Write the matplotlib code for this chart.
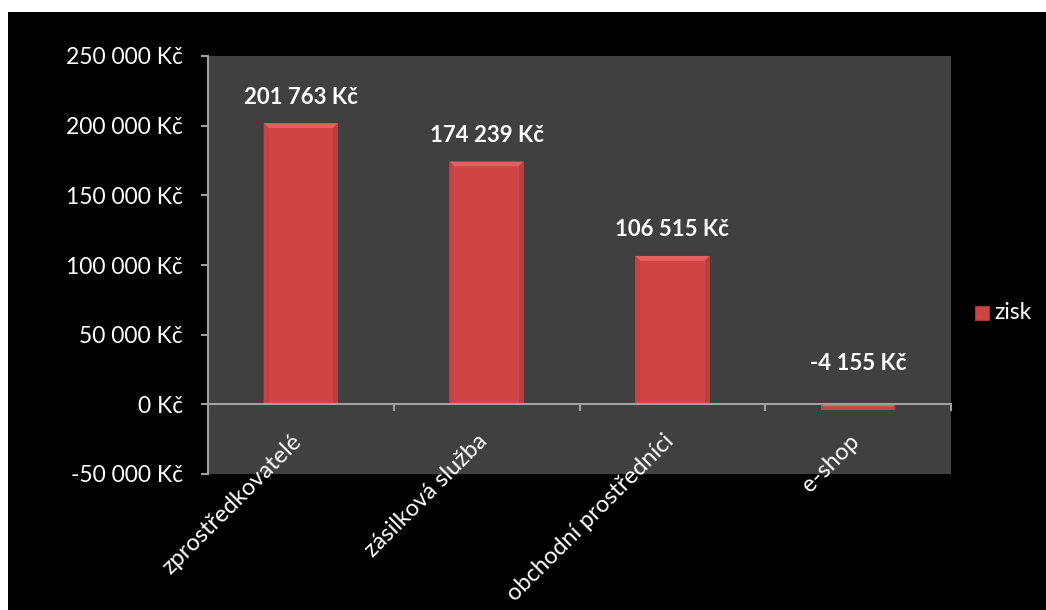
import matplotlib
matplotlib.use("Agg")
from matplotlib import pyplot as plt
from matplotlib.patches import Rectangle, Polygon
from matplotlib.transforms import ScaledTranslation
import numpy as np

categories = ["zprostředkovatelé", "zásilková služba", "obchodní prostředníci", "e-shop"]
zisk = [201763, 174239, 106515, -4155]
yticks = [-50000, 0, 50000, 100000, 150000, 200000, 250000]

W, H = 1046, 610
plt.rcParams["font.family"] = ["Lato", "DejaVu Sans"]

def kc(v):
    s = f"{abs(v):,}".replace(",", " ")
    return ("-" if v < 0 else "") + s + " Kč"

fig = plt.figure(figsize=(W / 100, H / 100), dpi=100, facecolor="white")
# black chart background, leaving a thin white margin top and left
fig.patches.append(Rectangle((8 / W, 0), 1 - 8 / W, 1 - 12 / H, transform=fig.transFigure,
                             facecolor="black", edgecolor="none", zorder=-5))

ax = fig.add_axes([208 / W, (H - 474) / H, (951 - 208) / W, (474 - 56) / H])
ax.set_facecolor("#404040")
ax.set_xlim(0, len(categories))
ax.set_ylim(-50000, 250000)

# pixel -> data conversions for the bevel
px_x = len(categories) / (951 - 208)
px_y = 300000 / (474 - 56)
bw = 0.40
bev = 5

for i, v in enumerate(zisk):
    x0 = i + 0.5 - bw / 2
    lo, hi = min(v, 0), max(v, 0)
    h = hi - lo
    ax.add_patch(Rectangle((x0, lo), bw, h, facecolor="#b43636", edgecolor="none", zorder=2))
    e = min(bev, h / px_y / 2.5)
    ex, ey = e * px_x, e * px_y
    # lighter top bevel
    ax.add_patch(Polygon([(x0, hi), (x0 + bw, hi), (x0 + bw - ex, hi - ey), (x0 + ex, hi - ey)],
                         facecolor="#e66060", edgecolor="none", zorder=3))
    # side bevels
    ax.add_patch(Polygon([(x0, hi), (x0 + ex, hi - ey), (x0 + ex, lo), (x0, lo)],
                         facecolor="#c94242", edgecolor="none", zorder=3))
    ax.add_patch(Polygon([(x0 + bw, hi), (x0 + bw - ex, hi - ey), (x0 + bw - ex, lo), (x0 + bw, lo)],
                         facecolor="#c03d3d", edgecolor="none", zorder=3))
    # front face
    ax.add_patch(Rectangle((x0 + ex, lo), bw - 2 * ex, h - ey, facecolor="#d04444",
                           edgecolor="none", zorder=3))
    off = 26 if v >= 0 else 41
    ax.annotate(kc(v), (i + 0.5, hi), xytext=(0, off * 0.72), textcoords="offset points",
                ha="center", va="center", color="white", fontsize=16, fontweight="bold", zorder=5)

for s in ["top", "right"]:
    ax.spines[s].set_visible(False)
ax.spines["left"].set_color("#a0a0a0")
ax.spines["left"].set_linewidth(1.5)
ax.spines["bottom"].set_position(("data", 0))
ax.spines["bottom"].set_color("#a0a0a0")
ax.spines["bottom"].set_linewidth(1.5)
ax.spines["bottom"].set_zorder(4)

ax.set_yticks(yticks)
ax.set_yticklabels([kc(t) for t in yticks])
ax.tick_params(axis="y", colors="#a0a0a0", labelcolor="white", labelsize=16.5,
               length=5, width=1.5, pad=13)

ax.set_xticks(np.arange(len(categories) + 1), minor=True)
ax.set_xticks(np.arange(len(categories)) + 0.5)
ax.set_xticklabels(categories, rotation=45, ha="right", va="top")
ax.tick_params(axis="x", which="major", length=0, labelcolor="white", labelsize=17, pad=19)
ax.tick_params(axis="x", which="minor", direction="out", length=5, width=1.5, color="#a0a0a0")
for lbl in ax.get_xticklabels():
    lbl.set_transform(lbl.get_transform() + ScaledTranslation(5 / 100, 0, fig.dpi_scale_trans))

# legend
fig.patches.append(Rectangle((975 / W, 1 - 320 / H), 14 / W, 14 / H, transform=fig.transFigure,
                             facecolor="#d04444", edgecolor="#a83232", lw=0.8, zorder=3))
fig.text(994 / W, 1 - 313 / H, "zisk", color="white", fontsize=16.5, va="center", ha="left")

fig.savefig("out.png", dpi=100, facecolor=fig.get_facecolor())
